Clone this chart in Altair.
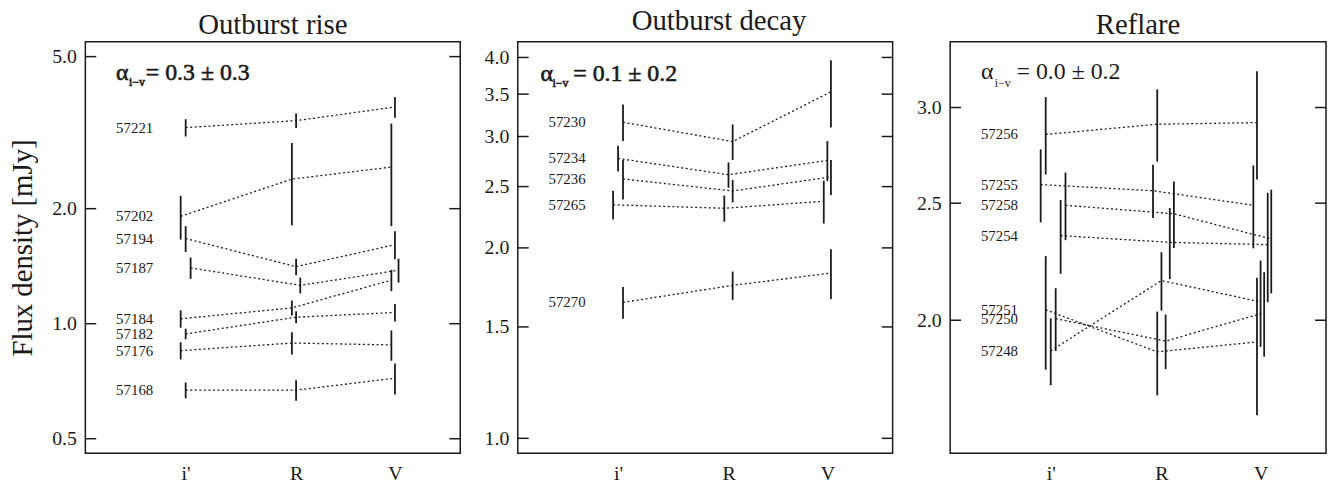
import altair as alt
import pandas as pd

# ---------------- data ----------------
BANDS = ["i'", "R", "V"]
BAND_FREQ = [3.93, 4.67, 5.45]          # effective frequency of each band, 1e14 Hz
X_DOMAIN = [3.36, 6.035]
JITTER = 0.0305                           # horizontal offset per slot (1e14 Hz)

# Outburst rise
RISE_MJD = ["57221", "57202", "57194", "57187", "57184", "57182", "57176", "57168"]
RISE_I = [3.26, 1.91, 1.67, 1.40, 1.03, 0.94, 0.85, 0.67]
RISE_I_ERR = [0.17, 0.25, 0.13, 0.09, 0.054, 0.03, 0.044, 0.032]
RISE_R = [3.40, 2.39, 1.41, 1.26, 1.10, 1.04, 0.89, 0.67]
RISE_R_ERR = [0.15, 0.58, 0.07, 0.06, 0.05, 0.038, 0.06, 0.041]
RISE_V = [3.69, 2.57, 1.61, 1.38, 1.30, 1.07, 0.88, 0.72]
RISE_V_ERR = [0.23, 0.77, 0.135, 0.10, 0.083, 0.056, 0.08, 0.067]
RISE_SLOT = [0, -1, 0, 1, -1, 0, -1, 0]
RISE_TICKS = [0.5, 1.0, 2.0, 5.0]
RISE_DOMAIN = [0.458, 5.47]

# Outburst decay
DECAY_MJD = ["57230", "57234", "57236", "57265", "57270"]
DECAY_I = [3.16, 2.77, 2.57, 2.34, 1.64]
DECAY_I_ERR = [0.21, 0.13, 0.185, 0.123, 0.094]
DECAY_R = [2.945, 2.61, 2.46, 2.31, 1.745]
DECAY_R_ERR = [0.19, 0.12, 0.10, 0.11, 0.09]
DECAY_V = [3.53, 2.75, 2.59, 2.37, 1.825]
DECAY_V_ERR = [0.43, 0.20, 0.165, 0.185, 0.165]
DECAY_SLOT = [1, 0, 1, -1, 1]
DECAY_TICKS = [1.0, 1.5, 2.0, 2.5, 3.0, 3.5, 4.0]
DECAY_DOMAIN = [0.947, 4.236]

# Reflare
REFL_MJD = ["57256", "57255", "57258", "57254", "57251", "57250", "57248"]
REFL_I = [2.85, 2.59, 2.49, 2.35, 2.04, 2.006, 1.887]
REFL_I_ERR = [0.21, 0.18, 0.16, 0.165, 0.22, 0.12, 0.12]
REFL_R = [2.906, 2.56, 2.45, 2.32, 1.883, 1.922, 2.157]
REFL_R_ERR = [0.20, 0.13, 0.155, 0.157, 0.15, 0.10, 0.12]
REFL_V = [2.915, 2.49, 2.335, 2.31, 1.919, 2.029, 2.071]
REFL_V_ERR = [0.30, 0.196, 0.23, 0.24, 0.25, 0.163, 0.17]
REFL_SLOT = [-1, -2, 3, 2, -1, 1, 0]
REFL_TICKS = [2.0, 2.5, 3.0]
REFL_DOMAIN = [1.552, 3.401]

ALPHA_TEXT = ["= 0.3 ± 0.3", "= 0.1 ± 0.2", "= 0.0 ± 0.2"]

# ---------------- style ----------------
FONT = "Liberation Serif"
INK = "#1a1a1a"
H = 415


def tparams(text, offset=2, dx=0):
    return alt.TitleParams(text=text, font=FONT, fontSize=29, fontWeight="normal",
                           color=INK, offset=offset, dx=dx)


def panel(title_params, mjd, fi, ei, fr, er, fv, ev, slots, ydom, yticks, eq_text,
          width, ann, heavy, ytitle=None, ytitle_pad=14):
    rows = []
    for k, m in enumerate(mjd):
        for b, (f, e) in enumerate(((fi[k], ei[k]), (fr[k], er[k]), (fv[k], ev[k]))):
            rows.append({"mjd": m, "band": BANDS[b], "ord": b,
                         "x": BAND_FREQ[b] + slots[k] * JITTER,
                         "flux": f, "lo": f - e, "hi": f + e})
    df = pd.DataFrame(rows)

    xs = alt.Scale(type="log", domain=X_DOMAIN, nice=False)
    ys = alt.Scale(type="log", domain=ydom, nice=False)
    xaxis = alt.Axis(values=BAND_FREQ, title=None, labelPadding=10,
                     labelExpr='datum.value < 4.3 ? "i\'" : (datum.value < 5 ? "R" : "V")')
    yaxis_kw = dict(values=yticks, format=".1f", labelPadding=9)
    if ytitle:
        yaxis = alt.Axis(title=ytitle, titlePadding=ytitle_pad, **yaxis_kw)
    else:
        yaxis = alt.Axis(title=None, **yaxis_kw)

    base = alt.Chart(df)
    lines = base.mark_line(strokeDash=[2, 2.6], strokeWidth=1.3, color=INK).encode(
        x=alt.X("x:Q", scale=xs, axis=xaxis),
        y=alt.Y("flux:Q", scale=ys, axis=yaxis),
        detail="mjd:N",
        order="ord:Q",
    )
    bars = base.mark_rule(strokeWidth=1.8, color=INK).encode(
        x=alt.X("x:Q", scale=xs, axis=xaxis),
        y=alt.Y("lo:Q", scale=ys, axis=yaxis),
        y2="hi:Q",
    )
    labels = base.transform_filter(alt.datum.band == "i'").mark_text(
        align="left", baseline="middle", font=FONT, fontSize=15, color=INK
    ).encode(
        x=alt.value(31),
        y=alt.Y("flux:Q", scale=ys, axis=yaxis),
        text="mjd:N",
    )

    tdf = pd.DataFrame({"t": yticks})
    lt = alt.Chart(tdf).mark_rule(color=INK, strokeWidth=1.5).encode(
        x=alt.value(0), x2=alt.value(11), y=alt.Y("t:Q", scale=ys, axis=yaxis))
    rt = alt.Chart(tdf).mark_rule(color=INK, strokeWidth=1.5).encode(
        x=alt.value(width - 11), x2=alt.value(width), y=alt.Y("t:Q", scale=ys, axis=yaxis))

    ax, subx, eqx, yb, subyb = ann
    sw = 0.6 if heavy else 0.0
    adf = pd.DataFrame({"k": [0]})
    a = alt.Chart(adf)
    t_alpha = a.mark_text(align="left", baseline="alphabetic", font=FONT, fontSize=24,
                          color=INK, stroke=INK, strokeWidth=sw).encode(
        x=alt.value(ax), y=alt.value(yb), text=alt.value("α"))
    t_sub = a.mark_text(align="left", baseline="alphabetic", font=FONT, fontSize=12,
                        color=INK, stroke=INK, strokeWidth=sw).encode(
        x=alt.value(subx), y=alt.value(subyb), text=alt.value("i−v"))
    t_eq = a.mark_text(align="left", baseline="alphabetic", font=FONT, fontSize=24,
                       color=INK, stroke=INK, strokeWidth=sw).encode(
        x=alt.value(eqx), y=alt.value(yb), text=alt.value(eq_text))

    return alt.layer(lines, bars, labels, lt, rt, t_alpha, t_sub, t_eq).properties(
        width=width, height=H, title=title_params)


p1 = panel(tparams("Outburst rise"), RISE_MJD, RISE_I, RISE_I_ERR, RISE_R, RISE_R_ERR,
           RISE_V, RISE_V_ERR, RISE_SLOT, RISE_DOMAIN, RISE_TICKS, ALPHA_TEXT[0],
           378, (31, 44, 61, 39, 45), True, ytitle="Flux density [mJy]")
p2 = panel(tparams("Outburst decay", offset=6, dx=14), DECAY_MJD, DECAY_I, DECAY_I_ERR,
           DECAY_R, DECAY_R_ERR, DECAY_V, DECAY_V_ERR, DECAY_SLOT, DECAY_DOMAIN,
           DECAY_TICKS, ALPHA_TEXT[1], 378, (23, 35, 56, 40, 46), True)
p3 = panel(tparams("Reflare"), REFL_MJD, REFL_I, REFL_I_ERR, REFL_R, REFL_R_ERR,
           REFL_V, REFL_V_ERR, REFL_SLOT, REFL_DOMAIN, REFL_TICKS, ALPHA_TEXT[2],
           379, (31, 45, 67, 38, 46), False)

chart = alt.hconcat(p1, p2, p3, spacing=21).properties(
    padding={"left": 0, "top": -4, "right": 0, "bottom": 0}
).configure_view(
    stroke=INK, strokeWidth=1.5
).configure_axis(
    labelFont=FONT, labelFontSize=20, labelColor=INK,
    titleFont=FONT, titleFontSize=29, titleFontWeight="normal", titleColor=INK,
    domain=False, ticks=False, grid=False,
)

chart.save("out.html", embed_options={"renderer": "svg", "actions": False})
